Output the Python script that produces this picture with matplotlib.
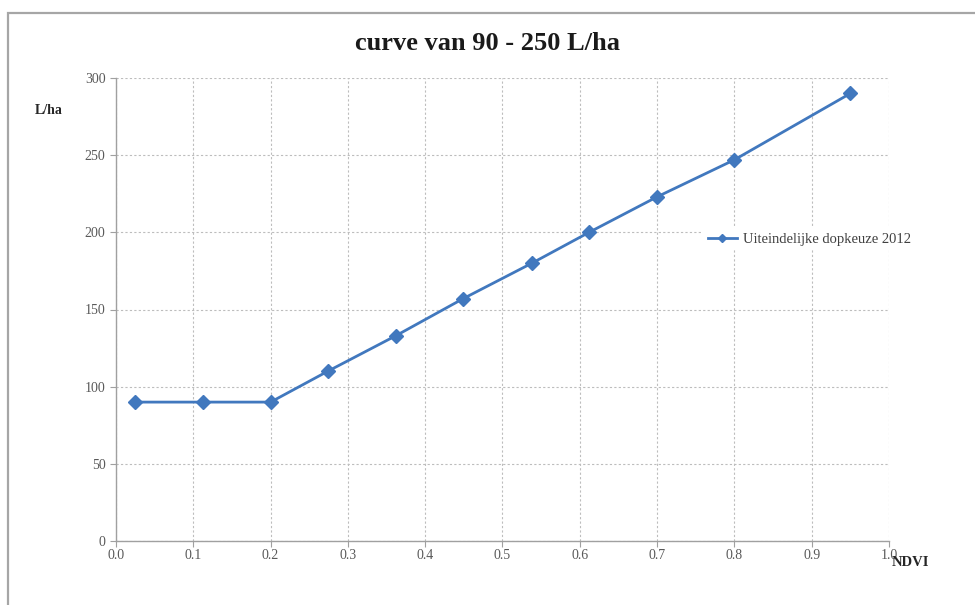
import numpy as np
import matplotlib
matplotlib.use("Agg")
import matplotlib.pyplot as plt
from matplotlib.patches import Rectangle

# data
ndvi = [0.025, 0.113, 0.200, 0.274, 0.362, 0.449, 0.538, 0.612, 0.700, 0.800, 0.950]
liters = [90, 90, 90, 110, 133, 157, 180, 200, 223, 247, 290]
x_ticks = [0.0, 0.1, 0.2, 0.3, 0.4, 0.5, 0.6, 0.7, 0.8, 0.9, 1.0]
y_ticks = [0, 50, 100, 150, 200, 250, 300]
series_name = "Uiteindelijke dopkeuze 2012"

plt.rcParams['font.family'] = ['Liberation Serif', 'DejaVu Serif']

fig = plt.figure(figsize=(9.75, 6.05), dpi=100)
# outer chart frame (runs past right and bottom edges)
fig.patches.append(Rectangle((8 / 975, -0.05), 1.1, 1.05 - 13 / 605,
                             transform=fig.transFigure, fill=False,
                             edgecolor='#a6a6a6', linewidth=1.6))

ax = fig.add_axes([116 / 975, 64 / 605, (889 - 116) / 975, (541 - 78) / 605])
ax.plot(ndvi, liters, color='#4178be', linewidth=2.0, marker='D',
        markersize=7, label=series_name, zorder=3)

ax.set_xlim(0, 1.0)
ax.set_ylim(0, 300)
ax.set_xticks(x_ticks)
ax.set_xticklabels(['%.1f' % v for v in x_ticks])
ax.set_yticks(y_ticks)
ax.grid(True, linestyle=(0, (2, 2)), color='#bdbdbd', linewidth=0.8)
for side in ['top', 'right']:
    ax.spines[side].set_visible(False)
for side in ['left', 'bottom']:
    ax.spines[side].set_color('#a0a0a0')
    ax.spines[side].set_linewidth(1.0)
ax.tick_params(axis='both', colors='#a0a0a0', labelcolor='#595959',
               labelsize=10, length=4, width=0.8)
ax.tick_params(axis='x', pad=2)

fig.text(0.5, 1 - 43 / 605, "curve van 90 - 250 L/ha", ha='center', va='center',
         fontsize=19, fontweight='bold', color='#1a1a1a')
fig.text(35 / 975, 1 - 110 / 605, "L/ha", ha='left', va='center',
         fontsize=10, fontweight='bold', color='#262626')
fig.text(892 / 975, 1 - 562 / 605, "NDVI", ha='left', va='center',
         fontsize=10.5, fontweight='bold', color='#262626')

leg = ax.legend(loc='center left', bbox_to_anchor=(696 / 975, 1 - 239 / 605),
                bbox_transform=fig.transFigure, frameon=True, fontsize=10.5,
                handlelength=2.0, handletextpad=0.4, borderpad=0.3, markerscale=0.6)
leg.get_frame().set_edgecolor('none')
leg.get_frame().set_facecolor('white')
leg.get_frame().set_alpha(1.0)
for t in leg.get_texts():
    t.set_color('#404040')

fig.savefig('out.png', dpi=100)
